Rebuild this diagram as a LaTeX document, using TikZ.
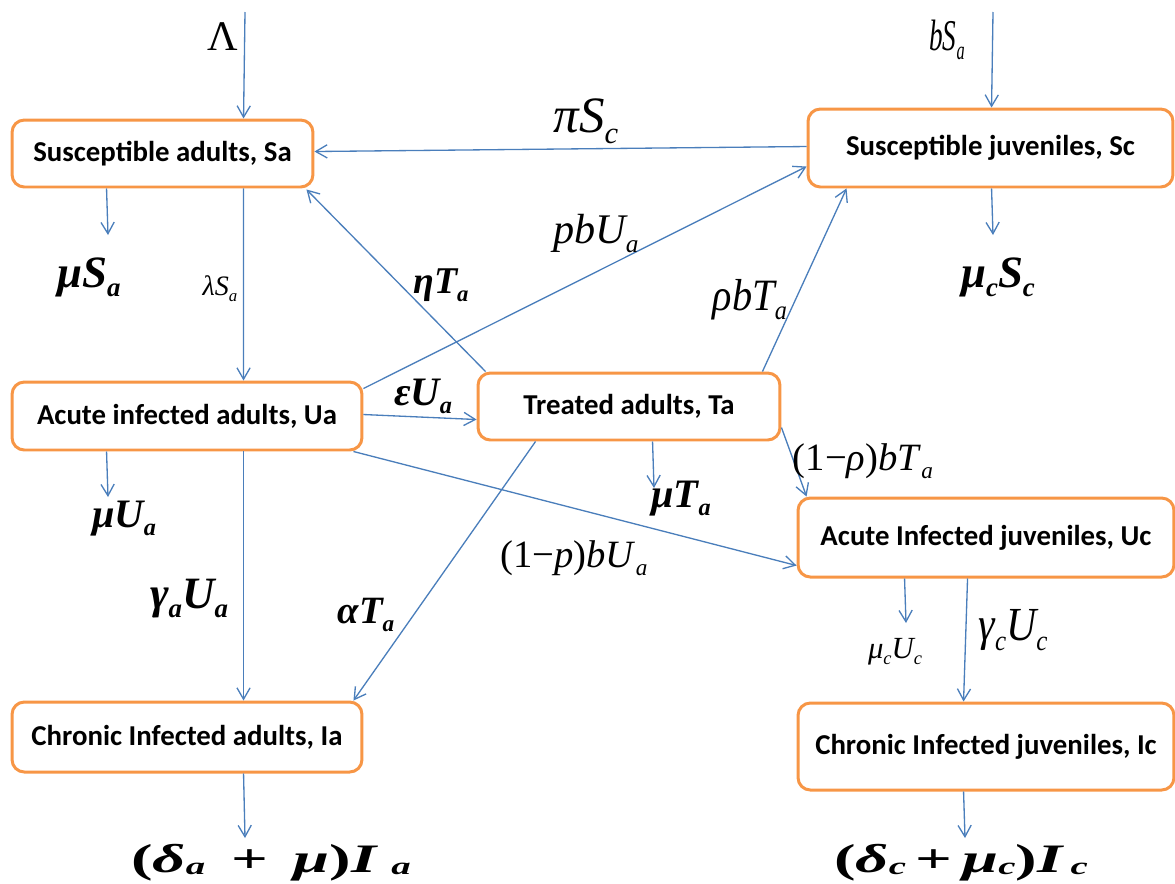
\documentclass[tikz,border=0pt]{standalone}
\usepackage{fontspec}
\setmainfont{Liberation Serif}
\newfontfamily\boxfont{Carlito}
\usepackage{graphicx}
\usetikzlibrary{arrows.meta,calc}
\definecolor{boxorange}{HTML}{F79646}
\definecolor{arrowblue}{HTML}{4A7EBB}
\newcommand\sbs[1]{\raisebox{-0.22em}{\scalebox{0.6}{#1}}}
\newcommand\sbl[1]{\raisebox{-0.06em}{\scalebox{0.6}{#1}}}
\newcommand\fs[1]{\fontsize{#1}{#1}\selectfont}
\begin{document}
\begin{tikzpicture}[x=0.02cm,y=-0.02cm,
  compart/.style={draw=boxorange, line width=1.7pt, rounded corners=7pt, fill=white, align=center, inner sep=0pt, font=\boxfont\bfseries\fs{16.4pt}},
  conn/.style={draw=arrowblue, line width=0.75pt, -{Straight Barb[length=6.5pt,width=7.5pt]}},
  rate/.style={inner sep=0pt, anchor=base}]
\useasboundingbox (0,0) rectangle (1175,883);

% compartments
\node[compart, minimum width=6.02cm, minimum height=1.34cm] (Sa) at (162.5,153.5) {Susceptible adults, Sa};
\node[compart, minimum width=7.30cm, minimum height=1.56cm] (Sc) at (990.5,148) {Susceptible juveniles, Sc};
\node[compart, minimum width=7.00cm, minimum height=1.36cm] (Ua) at (187,416) {Acute infected adults, Ua};
\node[compart, minimum width=6.04cm, minimum height=1.34cm] (Ta) at (629,406.5) {Treated adults, Ta};
\node[compart, minimum width=7.52cm, minimum height=1.58cm] (Uc) at (986,537.5) {Acute Infected juveniles, Uc};
\node[compart, minimum width=7.00cm, minimum height=1.40cm] (Ia) at (187,737) {Chronic Infected adults, Ia};
\node[compart, minimum width=7.52cm, minimum height=1.74cm] (Ic) at (986,746.5) {Chronic Infected juveniles, Ic};

% free ends
\coordinate (LamTop) at (245,12);
\coordinate (bTop) at (993,12);
\coordinate (muSa) at (108,235);
\coordinate (mucSc) at (993,235);
\coordinate (muUa) at (108,497);
\coordinate (muTa) at (654,488);
\coordinate (mucUc) at (906,623);
\coordinate (dIa) at (245,838);
\coordinate (dIc) at (965,838);

% connectors
\draw[conn] (LamTop) -- ($(Sa.north west)+(233,0)$);
\draw[conn] (bTop) -- ($(Sc.north west)+(185,0)$);
\draw[conn] ($(Sc.north west)+(0,39)$) -- ($(Sa.north east)+(0,33)$);
\draw[conn] ($(Sa.south west)+(96,0)$) -- (muSa);
\draw[conn] ($(Sa.south west)+(233,0)$) -- ($(Ua.north west)+(233,0)$);
\draw[conn] ($(Ta.north west)+(9,0)$) -- ($(Sa.south east)+(-8,1)$);
\draw[conn] ($(Ua.north east)+(0,8)$) -- ($(Sc.north west)+(0,59)$);
\draw[conn] ($(Ta.north east)+(-19,0)$) -- ($(Sc.south west)+(40,0)$);
\draw[conn] ($(Sc.south west)+(185,0)$) -- (mucSc);
\draw[conn] ($(Ua.north east)+(0,34)$) -- ($(Ta.north west)+(0,48)$);
\draw[conn] ($(Ua.south west)+(96,0)$) -- (muUa);
\draw[conn] ($(Ua.south west)+(233,0)$) -- ($(Ia.north west)+(233,0)$);
\draw[conn] ($(Ta.south west)+(59,0)$) -- ($(Ia.north east)+(-10,0)$);
\draw[conn] ($(Ta.south west)+(176,0)$) -- (muTa);
\draw[conn] ($(Ta.north east)+(0,56)$) -- ($(Uc.north west)+(10,0)$);
\draw[conn] ($(Ua.south east)+(-10,0)$) -- ($(Uc.north west)+(0,69)$);
\draw[conn] ($(Uc.south west)+(108,0)$) -- (mucUc);
\draw[conn] ($(Uc.south west)+(171,0)$) -- ($(Ic.north west)+(167,0)$);
\draw[conn] ($(Ia.south west)+(233,0)$) -- (dIa);
\draw[conn] ($(Ic.south west)+(167,0)$) -- (dIc);

% rate labels
\node[rate] (lLam) at (223,50) {\fs{24pt}Λ};
\node[rate] (lbS) at (947,50) {\scalebox{0.62}[1]{\fs{25pt}\itshape bS\sbs{a}}};
\node[rate] (lpiS) at (586,132) {\fs{29pt}\itshape πS\sbs{c}};
\node[rate] (lmuS) at (89,287) {\fs{25.5pt}\bfseries\itshape μS\sbs{a}};
\node[rate] (llam) at (220,295) {\fs{16pt}\itshape λS\sbs{a}};
\node[rate] (leta) at (441,293) {\fs{21.5pt}\bfseries\itshape ηT\sbs{a}};
\node[rate] (lpb) at (596,243) {\fs{24pt}\itshape pbU\sbs{a}};
\node[rate] (lrho) at (750,310) {\scalebox{0.9}[1]{\fs{25.5pt}\itshape ρbT\sbs{a}}};
\node[rate] (lmucS) at (998,287) {\fs{25.5pt}\bfseries\itshape μ\sbs{c}S\sbs{c}};
\node[rate] (leps) at (423,405) {\fs{23pt}\bfseries\itshape εU\sbs{a}};
\node[rate] (lmuU) at (124,527) {\fs{23pt}\bfseries\itshape μU\sbs{a}};
\node[rate] (lgamA) at (189,608) {\fs{25.5pt}\bfseries\itshape γ\sbs{a}U\sbs{a}};
\node[rate] (lalpha) at (366,623) {\fs{22pt}\bfseries\itshape αT\sbs{a}};
\node[rate] (lmuT) at (681,507) {\fs{23pt}\bfseries\itshape μT\sbs{a}};
\node[rate] (lrhoT) at (863,470) {\fs{22pt}(1−\textit{ρ})\textit{bT}\sbs{\itshape a}};
\node[rate] (lpU) at (574,567) {\fs{22pt}(1−\textit{p})\textit{bU}\sbs{\itshape a}};
\node[rate] (lmucU) at (895,658) {\fs{17.5pt}\itshape μ\sbs{c}U\sbs{c}};
\node[rate] (lgamC) at (1013,640) {\scalebox{0.88}[1]{\fs{27pt}\itshape γ\sbs{c}U\sbs{c}}};
\node[rate] (ldA) at (271,872) {\scalebox{1.6}[1]{\fs{23pt}\bfseries (\textit{δ}\sbl{\itshape a}\hspace{0.4em}+\hspace{0.4em}\textit{μ})\textit{I}\hspace{0.2em}\sbl{\itshape a}}};
\node[rate] (ldC) at (961,872) {\scalebox{1.6}[1]{\fs{23pt}\bfseries (\textit{δ}\sbl{\itshape c}\hspace{0.15em}+\hspace{0.15em}\textit{μ}\sbl{\itshape c})\textit{I}\hspace{0.1em}\sbl{\itshape c}}};
\end{tikzpicture}
\end{document}
